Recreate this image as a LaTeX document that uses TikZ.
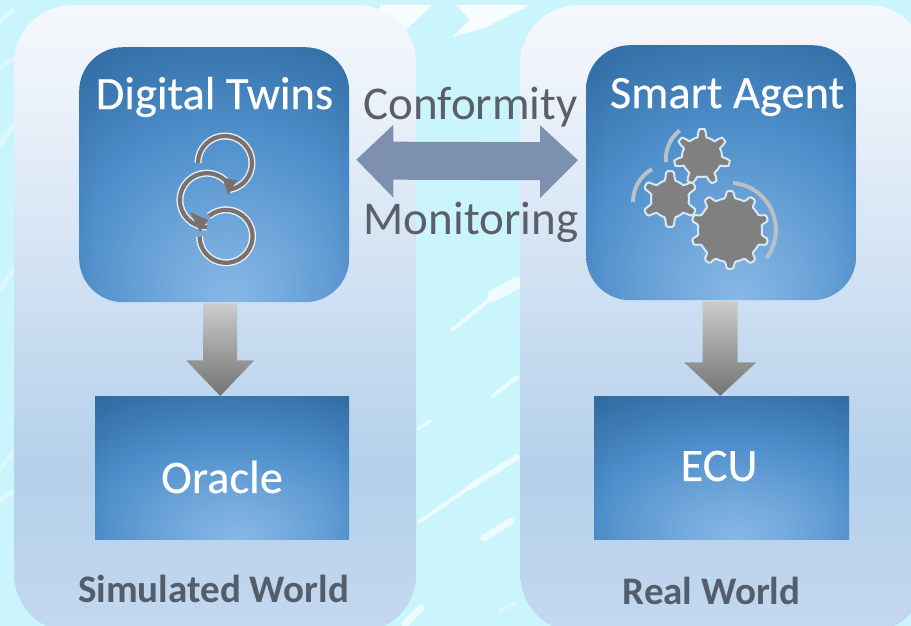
\documentclass[tikz,border=0pt]{standalone}
\usepackage{fontspec}
\setmainfont{Carlito}
\newfontfamily\heavyfont[FakeBold=0.35]{Carlito}
\usetikzlibrary{calc,fadings}
\definecolor{bgcyan}{RGB}{203,245,252}
\definecolor{boxdark}{RGB}{45,103,158}
\definecolor{boxmid}{RGB}{78,142,202}
\definecolor{boxlight}{RGB}{135,184,230}
\definecolor{paneltop}{RGB}{245,248,252}
\definecolor{panelhigh}{RGB}{236,242,250}
\definecolor{panellow}{RGB}{180,208,235}
\definecolor{panelbot}{RGB}{196,216,240}
\definecolor{midtext}{RGB}{92,94,104}
\definecolor{worldtext}{RGB}{84,94,106}
\definecolor{duplex}{RGB}{125,145,175}
\definecolor{gearfill}{RGB}{128,128,128}
\definecolor{gearedge}{RGB}{215,232,245}
\definecolor{arcgrey}{RGB}{185,192,198}
\definecolor{loopcol}{RGB}{125,112,108}
\pgfdeclareradialshading{boxglow}{\pgfpoint{3bp}{-25bp}}{
  color(0bp)=(boxlight);
  color(12bp)=(boxlight!60!boxmid);
  color(27bp)=(boxmid);
  color(48bp)=(boxdark);
  color(100bp)=(boxdark)}
\pgfdeclareverticalshading{panelgrad}{100bp}{
  color(0bp)=(panelbot);
  color(25bp)=(panelbot);
  color(38bp)=(panellow);
  color(68bp)=(panelhigh);
  color(75bp)=(paneltop);
  color(100bp)=(paneltop)}
\pgfdeclarehorizontalshading{sidestops}{100bp}{
  color(0bp)=(pgftransparent!25);
  color(13bp)=(pgftransparent!65);
  color(28bp)=(pgftransparent!100);
  color(72bp)=(pgftransparent!100);
  color(87bp)=(pgftransparent!65);
  color(100bp)=(pgftransparent!25)}
\pgfdeclarefading{sidefade}{\pgfuseshading{sidestops}}
\tikzset{
  panel/.style={rounded corners=58pt,shading=panelgrad,minimum height=627pt,inner sep=0pt},
  iconbox/.style={rounded corners=44pt,shading=boxglow,minimum width=270pt,minimum height=255pt,inner sep=0pt},
  flatbox/.style={shading=boxglow,minimum height=143pt,inner sep=0pt},
  sideshade/.style={fill=boxdark,path fading=sidefade},
  boxtext/.style={text=white,font=\heavyfont\fontsize{46.5}{46.5}\selectfont},
  midlabel/.style={text=midtext,font=\fontsize{47}{47}\selectfont},
  worldlabel/.style={text=worldtext,font=\bfseries\fontsize{39}{39}\selectfont},
  fatarrow/.style={top color=black!20,bottom color=black!55,draw=none},
  streak/.style={draw=white,opacity=.65,line cap=round},
  softstreak/.style={draw=white,opacity=.35,line cap=round},
  loopline/.style={line width=7pt,draw=white!80!boxlight},
  loopcore/.style={line width=4.2pt,draw=loopcol},
  geararc/.style={line width=4pt,draw=arcgrey},
  cogwheel/.style={fill=gearfill,draw=gearedge,line width=2pt,line join=round}
}
\newcommand{\cogshape}[6]{% cx cy root height teeth phase
  plot[domain=0:360,samples=#5*14+1]
   ({#1+(#3+#4*min(1,max(0,1.5*cos(#5*(\x-#6))-0.1)))*cos(\x)},
    {#2+(#3+#4*min(1,max(0,1.5*cos(#5*(\x-#6))-0.1)))*sin(\x)}) -- cycle}
\begin{document}
\begin{tikzpicture}[x=1pt,y=-1pt]
\useasboundingbox (0,0) rectangle (911,626);
\fill[bgcyan] (0,0) rectangle (911,626);
% background streaks
\draw[streak,line width=12pt] (517,283) -- (493,296);
\draw[streak,line width=4pt] (495,295) -- (452,330);
\draw[streak,line width=4pt] (517,377) -- (493,396);
\draw[streak,line width=3pt] (418,429) -- (430,421);
\draw[streak,line width=6pt] (517,457) -- (470,487);
\draw[streak,line width=4pt] (470,487) -- (419,522);
\draw[streak,line width=7pt] (511,521) -- (484,538);
\draw[streak,line width=7pt] (405,624) -- (421,608);
\draw[softstreak,line width=4pt] (500,610) -- (514,604);
\fill[white,opacity=.85] (380,5) -- (432,5) -- (406,30) -- (380,14) -- cycle;
\fill[white,opacity=.85] (456,5) -- (530,5) -- (484,28) -- (452,37) -- (470,20) -- cycle;
\draw[softstreak,line width=4pt] (0,22) -- (13,10);
\draw[softstreak,line width=4pt] (0,68) -- (13,59);
\draw[softstreak,line width=5pt] (0,145) -- (13,125);
\draw[softstreak,line width=4pt] (0,290) -- (13,270);
\draw[softstreak,line width=4pt] (0,470) -- (13,452);
\draw[softstreak,line width=5pt] (0,500) -- (13,492);
% panels
\node[panel,minimum width=402pt,anchor=north west] (simpanel) at (14,5) {};
\node[panel,minimum width=406pt,anchor=north west] (realpanel) at (520,5) {};
% blue boxes
\node[iconbox,anchor=north west] (twins) at (79,47) {};
\node[iconbox,anchor=north west] (agent) at (586,45) {};
\node[flatbox,anchor=north west,minimum width=254pt] (oracle) at (95,396) {};
\node[flatbox,anchor=north west,minimum width=255pt] (ecu) at (594,396) {};
\fill[sideshade,rounded corners=44pt] (twins.north west) rectangle (twins.south east);
\fill[sideshade,rounded corners=44pt] (agent.north west) rectangle (agent.south east);
\fill[sideshade] (oracle.north west) rectangle (oracle.south east);
\fill[sideshade] (ecu.north west) rectangle (ecu.south east);
% fat arrows
\coordinate (twinsfoot) at ($(twins.south)+(6,1)$);
\coordinate (oracletop) at (twinsfoot |- oracle.north);
\coordinate (agentfoot) at ($(agent.south)+(-1,1)$);
\coordinate (ecutop) at (agentfoot |- ecu.north);
\path[fatarrow] ($(twinsfoot)+(-17,0)$) -- ($(twinsfoot)+(17,0)$) -- ($(twinsfoot)+(17,57)$) -- ($(twinsfoot)+(34,57)$)
  -- (oracletop) -- ($(twinsfoot)+(-34,57)$) -- ($(twinsfoot)+(-17,57)$) -- cycle;
\path[fatarrow] ($(agentfoot)+(-17.5,0)$) -- ($(agentfoot)+(17.5,0)$) -- ($(agentfoot)+(17.5,61)$) -- ($(agentfoot)+(36,61)$)
  -- (ecutop) -- ($(agentfoot)+(-36,61)$) -- ($(agentfoot)+(-17.5,61)$) -- cycle;
% double arrow
\coordinate (dleft) at ($(twins.east)+(7,-15)$);
\coordinate (dright) at ($(agent.west)+(-8,-12.5)$);
\fill[duplex] (dleft) -- ($(dleft)+(37,-35)$) -- ($(dleft)+(37,-18)$) -- ($(dright)+(-38,-18)$) -- ($(dright)+(-38,-35)$)
  -- (dright) -- ($(dright)+(-38,38)$) -- ($(dright)+(-38,20)$) -- ($(dleft)+(37,20)$) -- ($(dleft)+(37,38)$) -- cycle;
% texts
\node[boxtext] (twinstext) at (214.5,97) {Digital Twins};
\node[boxtext] (agenttext) at (727,97) {Smart Agent};
\node[boxtext] (oracletext) at (222,477) {Oracle};
\node[boxtext] (ecutext) at (719,466) {ECU};
\node[midlabel] (conf) at (470.5,107) {Conformity};
\node[midlabel] (moni) at (471,222) {Monitoring};
\node[worldlabel] (simtext) at (213.5,589) {Simulated World};
\node[worldlabel] (realtext) at (711.5,591) {Real World};
% loop icon
\foreach \st in {loopline,loopcore}{
  \draw[\st] (198,163) arc[start angle=180,end angle=440,radius=27];
  \draw[\st] (226,181) arc[start angle=-45,end angle=-270,radius=27];
  \draw[\st] (209,216) arc[start angle=-130,end angle=180,radius=26.5];
}
\fill[loopcol] (223,178) -- (237,180) -- (228,195) -- cycle;
\fill[loopcol] (190,212) -- (208,220) -- (200,232) -- cycle;
% gears
\path[cogwheel] \cogshape{702}{157}{20}{8}{7}{-90};
\path[cogwheel] \cogshape{670}{199}{19}{9}{6}{-90};
\path[cogwheel] \cogshape{730}{230}{32}{7}{10}{-90};
\draw[geararc] (633,202) arc[start angle=180,end angle=240,radius=38];
\draw[geararc] (666,162) arc[start angle=175,end angle=232,radius=36];
\draw[geararc] (733,183) arc[start angle=-85,end angle=37,radius=47];
\end{tikzpicture}
\end{document}
